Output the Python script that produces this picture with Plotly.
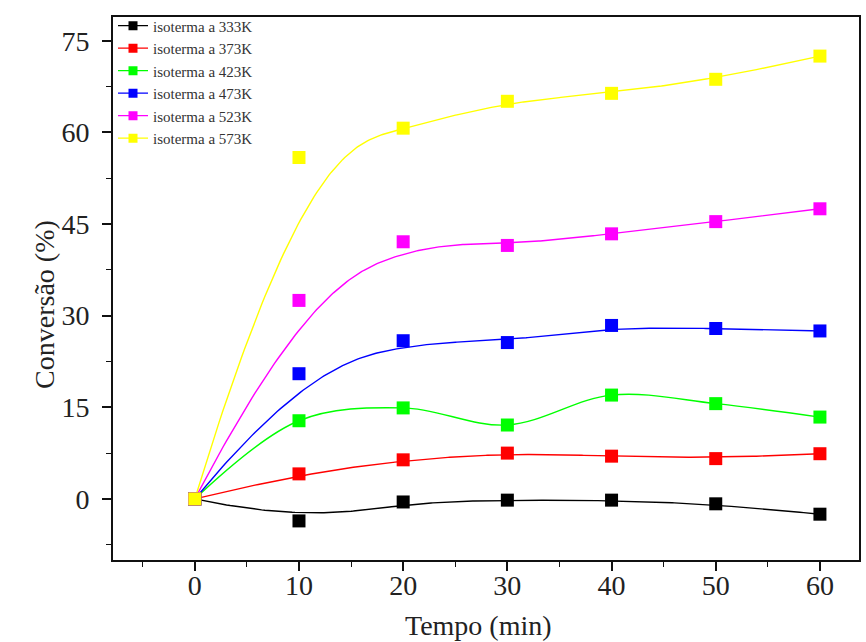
import numpy as np
import plotly.graph_objects as go

# Conversion (%) versus time for each isotherm
tempo = [0, 10, 20, 30, 40, 50, 60]

conv_333 = [0.0, -3.6, -0.5, -0.2, -0.2, -0.8, -2.5]
conv_373 = [0.0, 4.1, 6.4, 7.5, 7.0, 6.6, 7.4]
conv_423 = [0.0, 12.8, 14.9, 12.1, 17.0, 15.6, 13.4]
conv_473 = [0.0, 20.5, 25.9, 25.6, 28.4, 27.9, 27.5]
conv_523 = [0.0, 32.5, 42.1, 41.5, 43.4, 45.4, 47.5]
conv_573 = [0.0, 55.9, 60.7, 65.1, 66.4, 68.7, 72.5]

labels = ["isoterma a 333K", "isoterma a 373K", "isoterma a 423K",
          "isoterma a 473K", "isoterma a 523K", "isoterma a 573K"]
colors = ["#000000", "#FF0000", "#00FF00", "#0000FF", "#FF00FF", "#FFFF00"]
series = [conv_333, conv_373, conv_423, conv_473, conv_523, conv_573]
# connection style of each curve: clamped cubic B-spline or interpolating spline
connect = ["bspline", "bspline", "spline", "bspline", "bspline", "bspline"]

x_ticks = [0, 10, 20, 30, 40, 50, 60]
y_ticks = [0, 15, 30, 45, 60, 75]


def bspline_basis(knots, degree, u):
    nb = len(knots) - degree - 1
    B = np.zeros((len(u), len(knots) - 1))
    for i in range(len(knots) - 1):
        B[:, i] = (knots[i] <= u) & (u < knots[i + 1])
    B[u >= knots[-1], nb - 1] = 1.0
    for d in range(1, degree + 1):
        Bn = np.zeros((len(u), len(knots) - 1 - d))
        for i in range(len(knots) - 1 - d):
            term = np.zeros(len(u))
            if knots[i + d] != knots[i]:
                term += (u - knots[i]) / (knots[i + d] - knots[i]) * B[:, i]
            if knots[i + d + 1] != knots[i + 1]:
                term += (knots[i + d + 1] - u) / (knots[i + d + 1] - knots[i + 1]) * B[:, i + 1]
            Bn[:, i] = term
        B = Bn
    return B


def bspline_curve(xs, ys, degree=3, samples=300):
    xs = np.asarray(xs, float)
    ys = np.asarray(ys, float)
    m = len(xs)
    knots = np.concatenate([np.zeros(degree),
                            np.arange(0, m - degree + 1, dtype=float),
                            np.full(degree, float(m - degree))])
    u = np.linspace(0, m - degree, samples)
    B = bspline_basis(knots, degree, u)
    return B @ xs, B @ ys


fig = go.Figure()

# smooth curves
for ys, col, mode in zip(series, colors, connect):
    if mode == "bspline":
        cx, cy = bspline_curve(tempo, ys)
        fig.add_trace(go.Scatter(x=cx, y=cy, mode="lines",
                                 line=dict(color=col, width=1.4),
                                 showlegend=False, hoverinfo="skip"))
    else:
        fig.add_trace(go.Scatter(x=tempo, y=ys, mode="lines",
                                 line=dict(color=col, width=1.4, shape="spline", smoothing=1.0),
                                 showlegend=False, hoverinfo="skip"))

# data points
for ys, col, name in zip(series, colors, labels):
    fig.add_trace(go.Scatter(x=tempo, y=ys, mode="markers", name=name,
                             marker=dict(symbol="square", size=13, color=col,
                                         line=dict(width=0)),
                             showlegend=False))

# legend entries
for col, name in zip(colors, labels):
    fig.add_trace(go.Scatter(x=[None], y=[None], mode="lines+markers", name=name,
                             line=dict(color=col, width=1.4),
                             marker=dict(symbol="square", size=9, color=col,
                                         line=dict(width=0))))

serif = "Liberation Serif"
text_col = "#222222"

fig.update_layout(
    width=866, height=642,
    margin=dict(l=113, r=5, t=17, b=82),
    paper_bgcolor="white", plot_bgcolor="white",
    font=dict(family=serif, color=text_col),
    showlegend=True,
    legend=dict(x=0.0, y=1.014, xanchor="left", yanchor="top",
                bgcolor="rgba(0,0,0,0)", borderwidth=0,
                font=dict(family=serif, size=15, color="#333333"),
                tracegroupgap=0, itemwidth=30),
    annotations=[
        dict(text="Tempo (min)", xref="paper", yref="paper", x=0.49, y=-0.12,
             xanchor="center", yanchor="middle", showarrow=False,
             font=dict(family=serif, size=28, color=text_col)),
        dict(text="Conversão (%)", xref="paper", yref="paper", x=-0.091, y=0.47,
             xanchor="center", yanchor="middle", showarrow=False, textangle=-90,
             font=dict(family=serif, size=28, color=text_col)),
    ],
)

fig.update_xaxes(
    range=[-7.85, 63.75], tickvals=x_ticks, ticktext=[str(v) for v in x_ticks],
    showgrid=False, zeroline=False,
    showline=True, linecolor="#111111", linewidth=1.6, mirror=True,
    ticks="outside", ticklen=9, tickwidth=1.6, tickcolor="#111111",
    minor=dict(dtick=5, tick0=0, ticks="outside", ticklen=5, tickwidth=1.4,
               tickcolor="#111111", showgrid=False),
    tickfont=dict(family=serif, size=28, color=text_col),
    ticklabelstandoff=-9,
)

fig.update_yaxes(
    range=[-10.0, 78.9], tickvals=y_ticks, ticktext=[str(v) for v in y_ticks],
    showgrid=False, zeroline=False,
    showline=True, linecolor="#111111", linewidth=1.6, mirror=True,
    ticks="outside", ticklen=9, tickwidth=1.6, tickcolor="#111111",
    minor=dict(dtick=7.5, tick0=0, ticks="outside", ticklen=5, tickwidth=1.4,
               tickcolor="#111111", showgrid=False),
    tickfont=dict(family=serif, size=28, color=text_col),
    ticklabelstandoff=7,
)

fig.write_html("out.html")
